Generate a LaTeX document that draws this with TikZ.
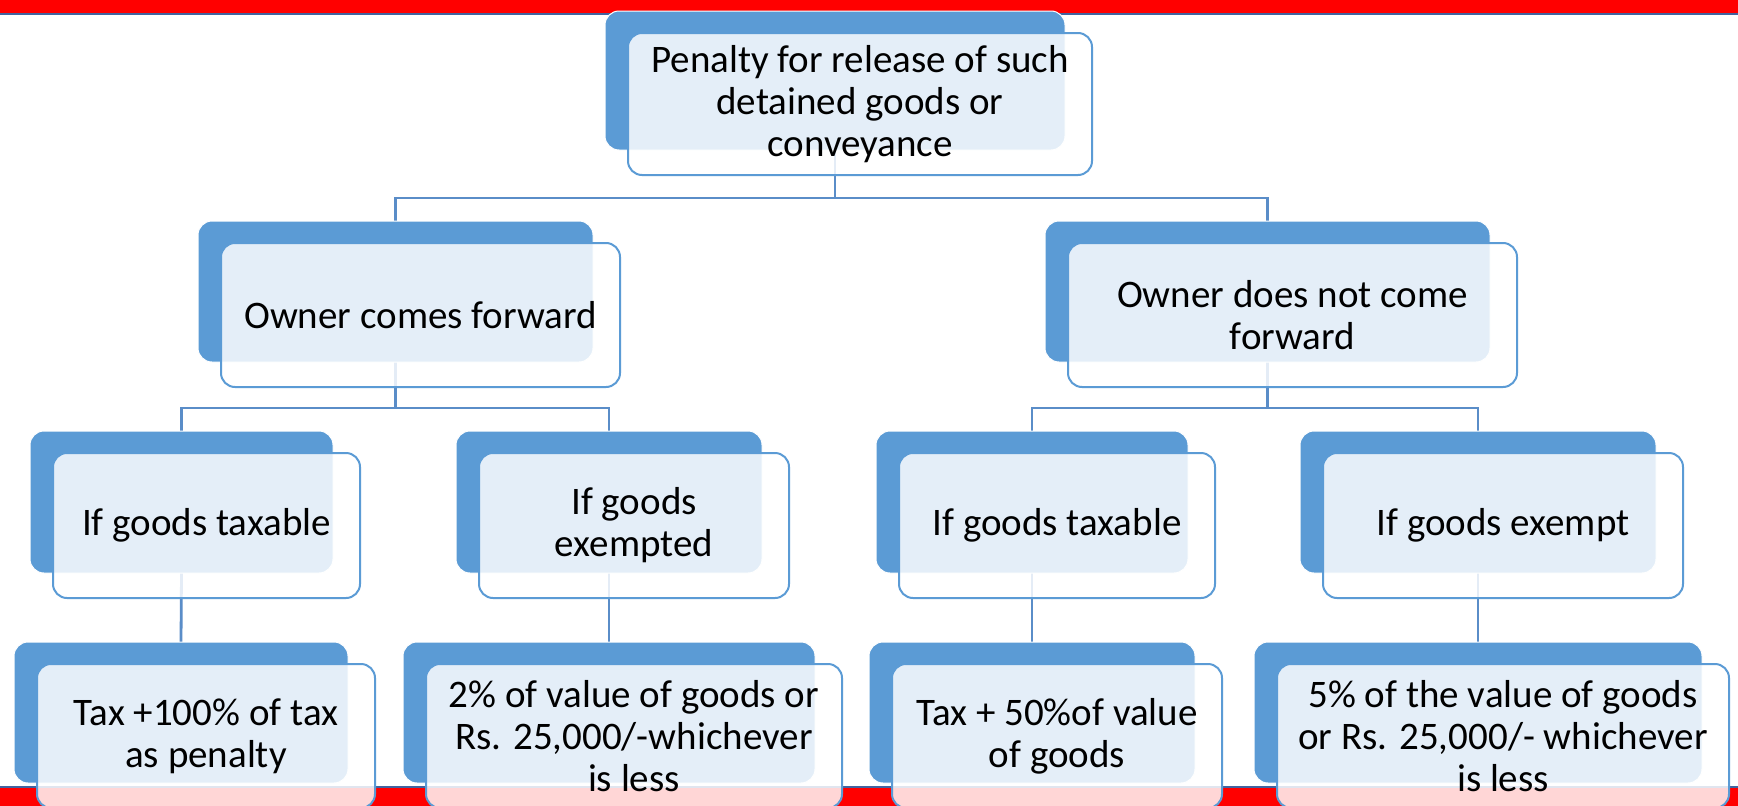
\documentclass[tikz,border=0pt]{standalone}
\usepackage{fontspec}
\setmainfont{Carlito}
\pgfdeclarelayer{bg}
\pgfsetlayers{bg,main}
\definecolor{bk}{HTML}{5B9BD5}
\definecolor{cn}{HTML}{5A8DC8}
\definecolor{bandblue}{HTML}{41639F}
\tikzset{
  backbox/.style={fill=bk,draw=white,line width=1pt,rounded corners=14pt,inner sep=0pt,outer sep=0pt},
  frontbox/.style={fill=white,fill opacity=0.84,text opacity=1,draw=bk,line width=2pt,rounded corners=14pt,
    inner sep=0pt,outer sep=0pt,align=center,font=\fontsize{39}{42}\selectfont,text=black},
  conn/.style={draw=cn,line width=2.8pt}
}
\newcommand\twobox[6]{%
  \pgfmathsetmacro\tbXc{(#2+#4)/2}\pgfmathsetmacro\tbYc{(#3+#5)/2}%
  \pgfmathsetmacro\tbW{#4-#2}\pgfmathsetmacro\tbH{#5-#3}%
  \node[backbox,minimum width=\tbW pt,minimum height=\tbH pt] (#1b) at (\tbXc,\tbYc) {};
  \pgfmathsetmacro\tbFXc{(#2+#4)/2+25}\pgfmathsetmacro\tbFYc{(#3+#5)/2+23.5}%
  \pgfmathsetmacro\tbFW{#4-#2+4}\pgfmathsetmacro\tbFH{#5-#3+3}%
  \node[frontbox,minimum width=\tbFW pt,minimum height=\tbFH pt] (#1) at (\tbFXc,\tbFYc) {#6};
}
\begin{document}
\begin{tikzpicture}[x=1pt,y=-1pt]
\useasboundingbox (0,0) rectangle (1738,806);
\coordinate (h0) at (0,198);
\coordinate (h1) at (0,408);
% boxes
\twobox{root}{605}{11}{1065}{150}{Penalty for release of such\\detained goods or\\conveyance}
\twobox{la}{198}{221}{593}{362}{Owner comes forward}
\twobox{lb}{1045}{221}{1490}{362}{Owner does not come\\forward}
\twobox{ba}{30}{431}{333}{573}{If goods taxable}
\twobox{bb}{456}{431}{762}{573}{If goods\\exempted}
\twobox{bc}{876}{431}{1188}{573}{If goods taxable}
\twobox{bd}{1300}{431}{1656}{573}{If goods exempt}
\twobox{ca}{14}{642}{348}{783}{Tax +100\% of tax\\as penalty}
\twobox{cb}{403}{642}{815}{783}{2\% of value of goods or\\Rs. 25,000/-whichever\\is less}
\twobox{cc}{869}{642}{1195}{783}{Tax + 50\%of value\\of goods}
\twobox{cd}{1254}{642}{1702}{783}{5\% of the value of goods\\or Rs. 25,000/- whichever\\is less}
\begin{pgfonlayer}{bg}
  \fill[white] (0,0) rectangle (1738,806);
  % bands
  \fill[red] (0,0) rectangle (1738,13);
  \draw[bandblue,line width=2pt] (0,14) -- (1738,14);
  \fill[red] (0,787.5) rectangle (1738,806);
  \draw[bandblue,line width=2pt] (0,786.5) -- (1738,786.5);
  % connectors
  \draw[conn] (rootb.south) -- (rootb.south |- h0) -| (lab.north);
  \draw[conn] (rootb.south |- h0) -| (lbb.north);
  \draw[conn] (lab.south) -- (lab.south |- h1) -| (bab.north);
  \draw[conn] (lab.south |- h1) -| (bbb.north);
  \draw[conn] (lbb.south) -- (lbb.south |- h1) -| (bcb.north);
  \draw[conn] (lbb.south |- h1) -| (bdb.north);
  \draw[conn] (bab.south) -- (cab.north);
  \draw[conn] (bbb.south) -- (cbb.north);
  \draw[conn] (bcb.south) -- (ccb.north);
  \draw[conn] (bdb.south) -- (cdb.north);
\end{pgfonlayer}
\end{tikzpicture}
\end{document}
